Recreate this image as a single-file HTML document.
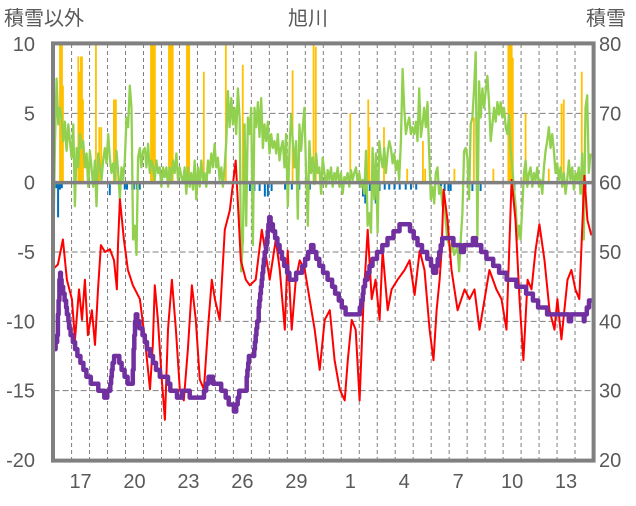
<!DOCTYPE html>
<html><head><meta charset="utf-8"><style>
body{margin:0;background:#fff;}
svg text{font-family:"Liberation Sans","Noto Sans CJK JP",sans-serif;fill:#595959;}
</style></head><body>
<svg id="chart" width="636" height="501" viewBox="0 0 636 501" xmlns="http://www.w3.org/2000/svg">
<text x="308" y="25" font-size="20" text-anchor="middle">旭川</text>
<text x="4" y="25" font-size="20">積雪以外</text>
<text x="586" y="25" font-size="20">積雪</text>
<g id="grid"></g>
<g id="bars"></g>
<g id="lines"></g>
<g id="axes"></g>
</svg>
<script>
const xLabels=["17","20","23","26","29","1","4","7","10","13"];
const leftTicks=[10,5,0,-5,-10,-15,-20];
const rightTicks=[80,70,60,50,40,30,20];
const yellowHours=[8.5,9.9,11.2,12.5,33,34.5,36.5,37.9,39.2,56.5,61,63.6,80.5,81.9,83.2,130,131,132.5,133.9,135.2,154,155,156.5,158,159,178,179,181,200.5,229.9,252.5,319,347,350,396,420,421.5,441,472,493,496,535,561,587,607,609,610,611.5,613,630,661,678,681,705,709];
const yellowVals=[10,10,10,7,9.1,8,9.1,9.1,6,10,4,4,6,6,6,10,10,10,10,10,10,10,10,10,10,10,10,10,8,10,8.5,8.1,10,9.8,5,6,4,4,1,3,1,1,4.7,1,10,10,10,10,9,5,1,5.7,6,8,4];
const blueHours=[3,4.5,6,7,8.5,11,75,95,98,105,107,111,115,178,204,255,262,268,275,282,286,291,309,318,328,342,413,416,422,430,435,442,448,455,462,470,477,484,517,522,527,530,559,565,570,615,710];
const blueVals=[-0.4,-0.4,-2.5,-0.5,-0.5,-0.4,-0.9,-0.5,-0.5,-0.5,-0.5,-0.5,-0.5,-0.3,-0.3,-1,-0.6,-0.6,-0.6,-1,-1,-0.6,-0.5,-0.5,-0.5,-0.5,-1,-1.5,-0.6,-1.5,-0.6,-0.5,-0.5,-0.5,-0.5,-0.5,-0.5,-0.5,-0.6,-0.6,-0.6,-0.6,-0.6,-0.6,-0.6,-0.6,-0.5];
// green series sampled every 2.22 hours
const greenVals=[-4.8,3.0,7.5,4.2,5.4,4.7,3.0,4.4,2.3,4.2,3.0,1.8,4.2,-1.7,2.5,1.1,3.5,2.5,3.0,1.1,2.1,-0.3,2.3,1.1,-0.3,1.6,-1.7,2.1,1.1,0.2,1.6,2.5,1.4,3.5,1.8,0.7,1.4,0.2,2.3,0.7,-1.2,1.1,0.2,1.6,4.7,4.0,7.0,5.4,-4.1,-3.1,-5.2,1.8,2.5,1.1,2.3,2.5,1.1,2.8,0.7,1.6,1.1,0.2,1.6,0.7,1.1,-0.3,1.1,0.4,1.1,-0.3,1.1,0.2,1.6,0.7,2.1,0.2,1.1,0.4,0,1.1,-0.8,1.1,
-0.3,0.7,-0.5,1.6,-1.2,1.1,-0.3,1.6,0.2,0.7,-0.3,1.6,0.7,2.1,1.1,2.8,1.1,1.8,0.2,1.1,-0.3,1.1,3.0,6.6,4.0,6.1,4.2,5.4,3.5,6.8,4.7,-6.4,-4.1,4.2,-3.1,4.7,3.5,5.4,-4.5,5.4,4.0,5.8,3.3,6.1,2.5,4.2,3.0,4.4,2.1,3.5,2.5,3.0,2.1,3.5,1.6,2.5,3.0,1.1,3.5,-1.7,2.5,4.9,3.0,1.1,3.0,-2.6,4.2,2.3,4.0,5.4,0.7,-3.1,3.0,0.7,1.8,-0.1,2.1,0.7,1.1,-0.8,1.8,
0.7,-0.3,0.9,0.2,1.1,-0.3,0.7,0.2,1.1,-0.3,0.7,-0.8,0.4,0.2,0.7,-0.3,0.9,0.2,0.7,1.1,0,0.7,-0.3,0.2,-0.8,2.3,-3.1,-2.2,-3.6,2.5,-1.2,2.1,-3.6,3.0,1.8,1.1,2.5,0.7,2.1,3.0,2.5,1.4,2.1,0.9,1.6,0.2,3.0,8.2,5.4,3.5,4.2,4.7,3.5,4.0,3.5,4.4,3.0,6.8,3.3,4.2,5.4,4.0,5.8,2.1,-1.2,-0.3,-1.5,0.7,1.1,-0.8,-0.3,-1.7,-0.8,-2.9,-4.1,-4.5,-5.0,-4.1,-5.2,-5.0,-4.5,
-6.4,-4.1,-2.2,2.3,2.5,1.8,-1.2,4.2,4.7,6.8,9.4,-4.1,7.3,4.7,6.8,5.4,6.6,7.7,5.8,3.0,4.2,5.4,4.4,5.8,4.9,5.8,4.7,5.4,4.0,3.5,4.9,2.3,1.1,-0.5,-1.7,-4.1,-3.1,-4.1,-1.7,0.7,1.6,-0.3,0.7,1.1,-0.3,0.7,0.2,1.1,-0.3,0.2,-0.8,1.1,2.3,3.0,4.0,2.5,3.5,2.3,0.7,1.4,0.2,1.1,-0.3,0.7,-0.8,0.2,1.6,0.2,1.1,-0.5,0.7,0.2,1.1,-0.8,2.1,-4.1,5.4,6.3,0.7,2.1];
const redDays=[0,0.24,0.52,0.74,1.02,1.19,1.41,1.58,1.74,1.91,2.13,2.3,2.47,2.63,2.86,3.13,3.36,3.52,3.58,3.69,3.91,4.13,4.41,4.8,5.08,5.36,5.52,5.63,5.8,6.02,6.19,6.36,6.58,6.8,7.02,7.24,7.47,7.69,7.91,8.13,8.36,8.58,8.8,8.97,9.24,9.52,9.8,10.13,10.24,10.41,10.69,10.91,11.24,11.58,11.8,12.02,12.36,12.58,12.86,13.02,13.24,13.47,13.69,13.97,14.24,14.52,14.8,15.08,15.36,15.63,15.91,16.19,16.36,16.58,16.8,17.02,17.24,17.47,17.69,17.91,18.13,18.3,18.58,18.8,19.13,19.52,19.8,20.08,20.36,20.63,20.91,21.13,21.3,21.47,21.58,21.69,21.91,22.13,22.47,22.86,23.13,23.41,23.69,23.97,24.24,24.63,24.91,25.19,25.47,25.69,25.91,26.13,26.36,26.58,26.8,27.02,27.3,27.58,27.86,28.02,28.24,28.58,28.8,29.02,29.24,29.52,29.69,29.91];
const redVals=[-6.2,-5.9,-4.1,-7,-8.4,-11.3,-7.7,-9.9,-7,-11,-9.2,-11.7,-7.7,-4.5,-5,-4.8,-5.6,-7.7,-4.5,-1.2,-4.1,-6.3,-7.4,-8.4,-11.3,-14.9,-11.7,-7.4,-9.9,-14.2,-17.1,-10.6,-7,-10.6,-14.9,-15.7,-12,-7.4,-9.9,-14.2,-14.9,-10.6,-7,-8.4,-9.9,-3.4,-2,1.6,-1.2,-5.6,-7,-7.4,-7,-3.4,-5.2,-7,-4.1,-6.3,-10.6,-4.9,-10.6,-7,-5.6,-6.3,-8.4,-10.6,-13.5,-9.9,-9.2,-12.8,-14.9,-15.7,-12.8,-9.9,-10.6,-15.7,-8.4,-3.4,-8.4,-7,-9.9,-4.9,-9.2,-7.7,-7,-6.3,-5.6,-8.1,-4.9,-6.3,-10.6,-12.8,-9.2,-7,-4.9,-0.5,-2.7,-6.3,-9.2,-7.7,-8.4,-7.7,-10.6,-8.4,-6.3,-7.7,-8.4,-10.6,0.2,-2.7,-8.4,-12.8,-7,-7.7,-4.9,-3,-5.6,-9.2,-10.6,-8.4,-11.3,-7,-6.3,-7.7,-8.4,0.5,-2.7,-3.8];
const purpleDays=[0.03,0.18,0.34,0.64,0.86,1.2,1.54,1.88,2.22,2.56,2.9,3.12,3.35,3.57,3.8,4.14,4.36,4.55,4.82,5.15,5.49,5.83,6.28,6.51,6.96,7.41,7.64,8.32,8.66,8.99,9.44,9.78,10.12,10.35,10.69,10.85,11.14,11.37,11.59,11.82,12.0,12.58,13.13,13.69,14.36,14.8,15.36,15.91,16.2,17.0,17.3,17.6,18.1,19.2,19.8,20.3,20.9,21.2,21.6,22.0,22.7,23.4,24.0,24.8,25.4,25.9,26.5,27.0,27.6,28.2,28.7,29.2,29.5,29.8,29.95];
const purpleVals=[36.1,37.3,46.8,43,39.2,36.3,34,32,31.1,30.2,29.2,30.2,35,35,33.3,31.1,31,40.9,39.2,36.8,34.5,32.6,31.8,30.2,29.2,29.9,29.2,29.2,32.1,31.1,30.2,28,27.3,30,30.2,35,35.4,40.6,46.8,51,55,50.3,46.2,46.7,51,48.1,46,43.1,41.5,41.3,45.4,48,50,53.5,53.5,51,49,46.7,51.7,52,50.3,51.7,49.7,47.4,46,45.2,44,42.3,41.2,41.2,40.4,41.2,40.4,43,43.5];

const NS='http://www.w3.org/2000/svg';
const L=53.6,R=593,T=44,B=460,DAYS=30,DW=(R-L)/DAYS;
const xDay=d=>L+d*DW, xHour=h=>L+h/24*DW;
const yL=v=>T+(10-v)*(B-T)/30, yR=v=>T+(80-v)*(B-T)/60;
function mk(tag,parent,attrs){const e=document.createElementNS(NS,tag);for(const k in attrs)e.setAttribute(k,attrs[k]);document.getElementById(parent).appendChild(e);return e;}
for(let i=1;i<DAYS;i++){const e=mk('line','grid',{x1:xDay(i),x2:xDay(i),y1:T,y2:B,stroke:'#7f7f7f','stroke-width':1,'stroke-dasharray':'4,3'});

}
leftTicks.forEach(v=>{if(v===10||v===-20||v===0)return;const e=mk('line','grid',{x1:L,x2:R,y1:yL(v),y2:yL(v),stroke:'#7f7f7f','stroke-width':1,'stroke-dasharray':'6,3'});

});
yellowHours.forEach((h,i)=>{const v=yellowVals[i];const e=mk('rect','bars',{x:xHour(h)-0.9,y:yL(v),width:1.8,height:yL(0)-yL(v),fill:'#FFC000'});

});
blueHours.forEach((h,i)=>{const v=blueVals[i];const e=mk('rect','bars',{x:xHour(h)-1,y:yL(0),width:2,height:yL(v)-yL(0),fill:'#0070C0'});

});
function poly(pts,color,w,join){return mk('polyline','lines',{points:pts.map(p=>p[0].toFixed(1)+','+p[1].toFixed(1)).join(' '),fill:'none',stroke:color,'stroke-width':w,'stroke-linejoin':join||'round'});}
const gStep=2.22/24;
const gl=poly(greenVals.map((v,i)=>[xDay(i*gStep-0.017),yL(v)]),'#92D050',2.3);


const rl=poly(redDays.map((d,i)=>[xDay(d),yL(redVals[i])]),'#FF0000',2);


// snow depth: hourly readings at 1 cm resolution between the read points
const pp=[];
function depthAt(d){for(let i=1;i<purpleDays.length;i++){if(d<=purpleDays[i]){const a=purpleDays[i-1],b=purpleDays[i];const f=(d-a)/(b-a);return purpleVals[i-1]+f*(purpleVals[i]-purpleVals[i-1]);}}return purpleVals[purpleVals.length-1];}
for(let h=purpleDays[0]*24;h<=purpleDays[purpleDays.length-1]*24;h+=1){const v=Math.round(depthAt(h/24));const x=xHour(h),y=yR(v);if(pp.length)pp.push([x,pp[pp.length-1][1]]);pp.push([x,y]);}
const pl=poly(pp,'#7030A0',4.5);


const z=mk('line','axes',{x1:L,x2:R,y1:yL(0),y2:yL(0),stroke:'#808080','stroke-width':3.5});


const fr=mk('rect','axes',{x:L-0.6,y:T-0.6,width:R-L+1.2,height:B-T+1.2,fill:'none',stroke:'#808080','stroke-width':4});


leftTicks.forEach(v=>{const t=mk('text','axes',{x:35,y:yL(v)+7,'font-size':20,'text-anchor':'end'});t.textContent=v;

});
rightTicks.forEach(v=>{const t=mk('text','axes',{x:599,y:yR(v)+7,'font-size':20});t.textContent=v;

});
xLabels.forEach((s,i)=>{const d=1+i*3;const t=mk('text','axes',{x:xDay(d+0.5),y:488,'font-size':20,'text-anchor':'middle'});t.textContent=s;

});
</script>
</body></html>
